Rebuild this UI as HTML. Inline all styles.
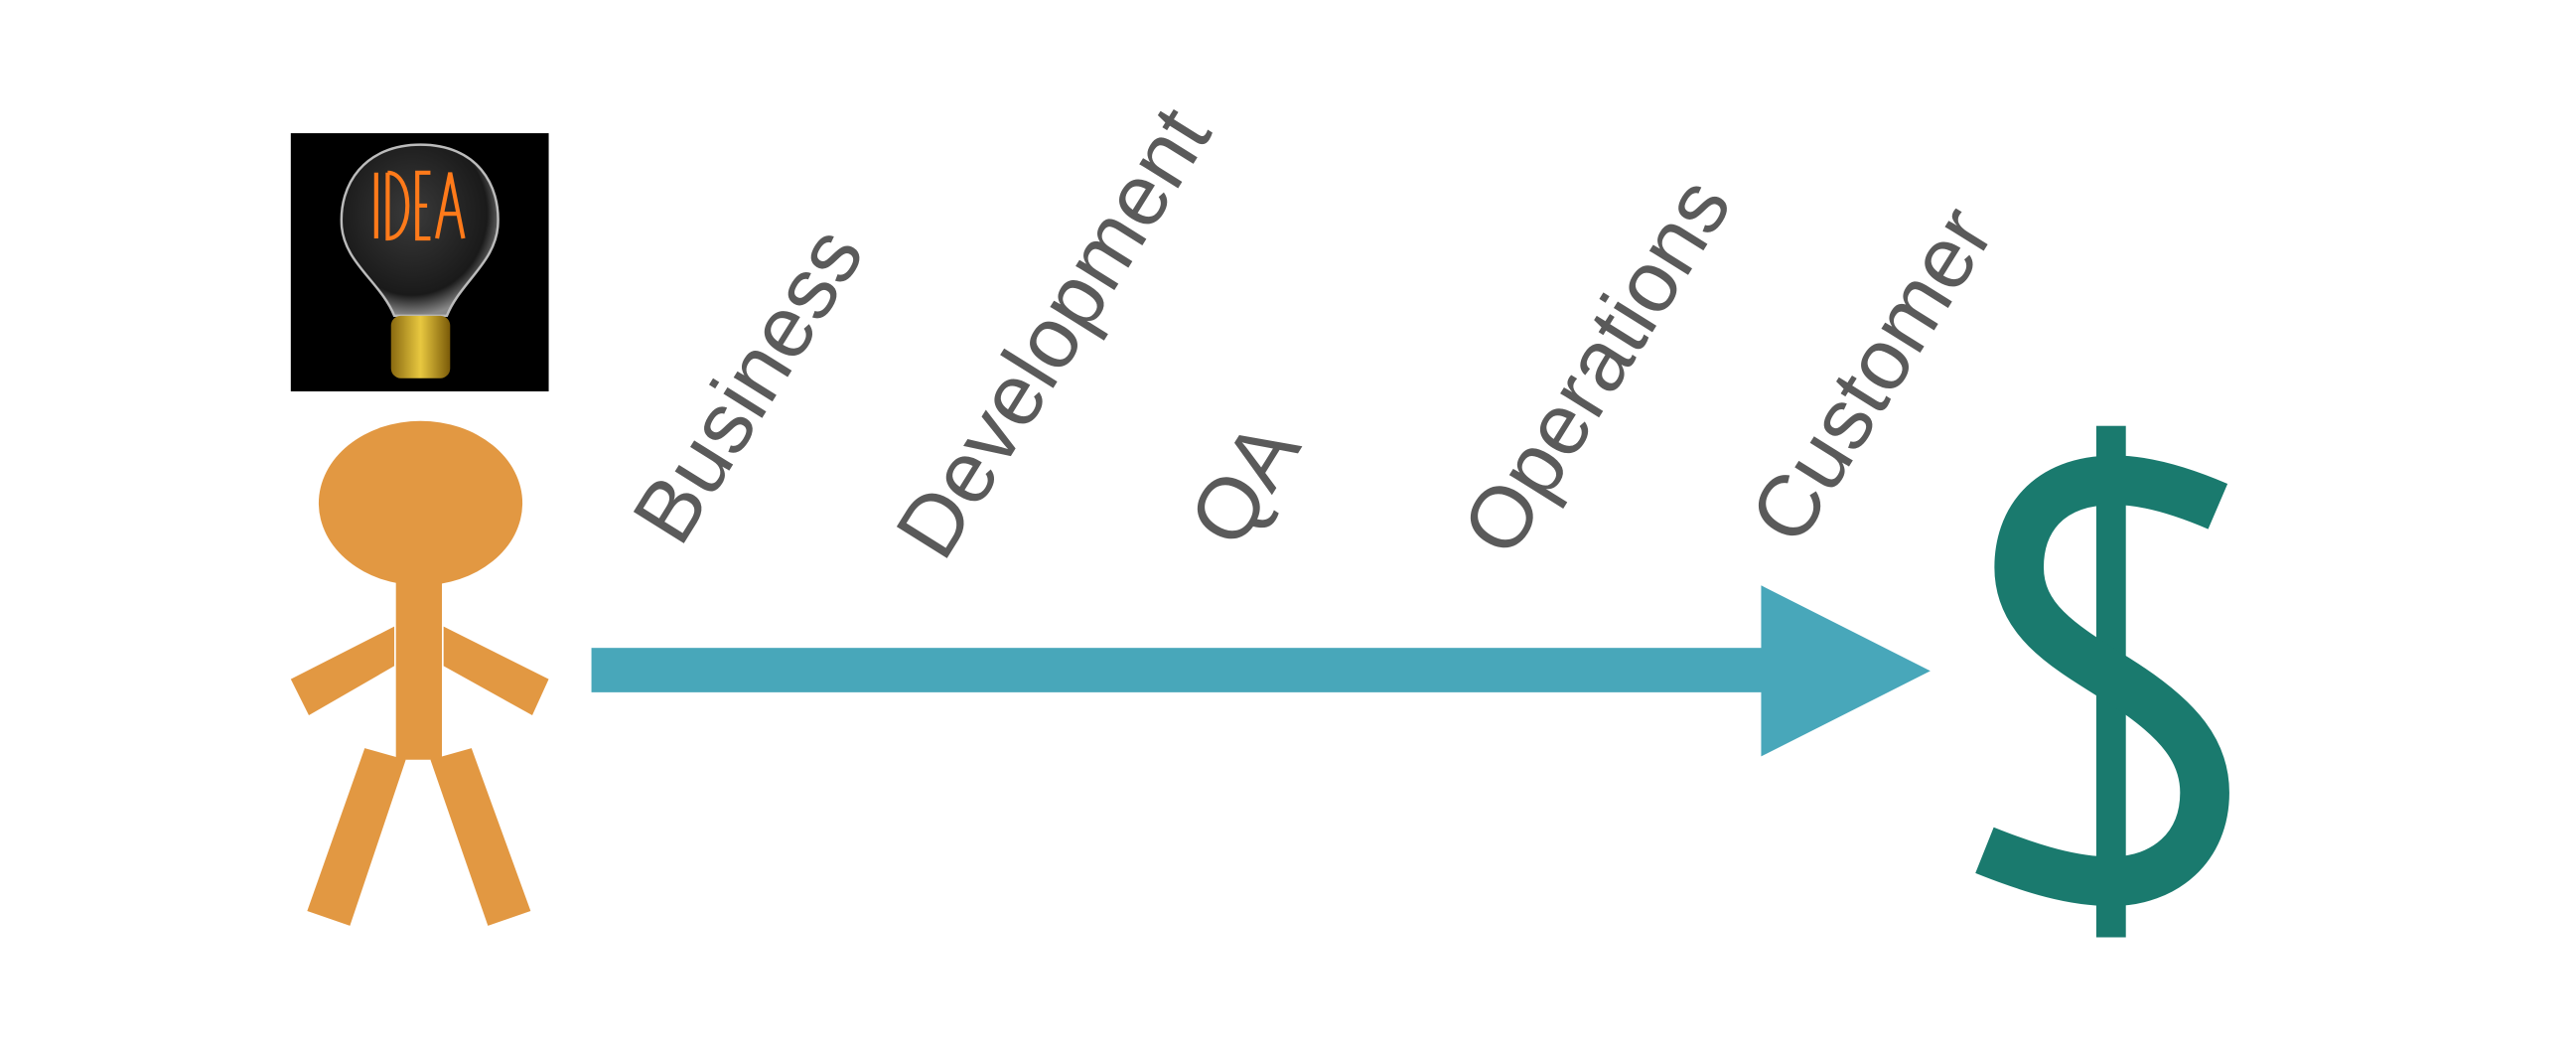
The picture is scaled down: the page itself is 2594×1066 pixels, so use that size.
<!DOCTYPE html>
<html><head><meta charset="utf-8"><style>
html,body{margin:0;padding:0;background:#fff;overflow:hidden;width:2594px;height:1066px;position:relative}
svg{display:block;position:absolute;left:0;top:0}
.t{position:absolute;font-family:"Liberation Sans",sans-serif;font-size:87px;line-height:1;color:#5a5a5a;white-space:nowrap;transform-origin:0 79px;transform:rotate(-58deg)}
</style></head><body>
<svg width="2594" height="1066" viewBox="0 0 1568 644" preserveAspectRatio="none" xmlns="http://www.w3.org/2000/svg">
<defs>
<radialGradient id="bulb" cx="0.45" cy="0.4" r="0.6">
<stop offset="0" stop-color="#3a3a3a"/><stop offset="0.8" stop-color="#1a1a1a"/><stop offset="1" stop-color="#888"/>
</radialGradient>
<linearGradient id="base" x1="0" x2="1"><stop offset="0" stop-color="#8a6a10"/><stop offset="0.5" stop-color="#e8c840"/><stop offset="1" stop-color="#7a5a08"/></linearGradient>
</defs>
<rect x="177" y="81" width="157" height="157" fill="#000"/>
<path d="M256,88 C290,88 305,112 303,138 C301,160 280,172 272,192 L240,192 C232,172 210,160 208,138 C206,112 222,88 256,88 Z" fill="url(#bulb)" stroke="#bbb" stroke-width="1.5"/>
<rect x="238" y="192" width="36" height="38" rx="6" fill="url(#base)"/>
<g stroke="#ff7a1a" stroke-width="2.5" fill="none">
<path d="M229,105 L229,145 M236,105 L236,145 C252,145 252,105 236,105 M262,105 L254,105 L254,145 L262,145 M254,125 L260,125 M266,145 L274,105 L282,145 M269,130 L279,130"/>
</g>
<ellipse cx="256" cy="306" rx="62" ry="50" fill="#e29842"/>
<rect x="241" y="352" width="28" height="110" fill="#e29842"/>
<polygon points="177,413 240,381 240,405 188,435" fill="#e29842"/>
<polygon points="270,381 334,413 324,435 270,405" fill="#e29842"/>
<polygon points="222,455 247,462 213,563 187,554" fill="#e29842"/>
<polygon points="262,462 287,455 323,554 297,563" fill="#e29842"/>
<rect x="360" y="394" width="714" height="27" fill="#48a7ba"/>
<polygon points="1072,356 1175,408 1072,460" fill="#48a7ba"/>
<rect x="1276" y="259" width="18" height="311" fill="#1a7a6e"/>
<path d="M1350,308 C1322,296 1302,292 1287,292 C1245,292 1229,318 1229,345 C1229,378 1258,394 1290,414 C1328,438 1342,458 1342,482 C1342,515 1318,536 1285,536 C1262,536 1238,529 1208,517" fill="none" stroke="#1a7a6e" stroke-width="30"/>
</svg>
<div class="t" style="left:690px;top:477px">Business</div>
<div class="t" style="left:955px;top:492px">Development</div>
<div class="t" style="left:1250px;top:480px">QA</div>
<div class="t" style="left:1525px;top:489px">Operations</div>
<div class="t" style="left:1815px;top:477px">Customer</div>
</body></html>
